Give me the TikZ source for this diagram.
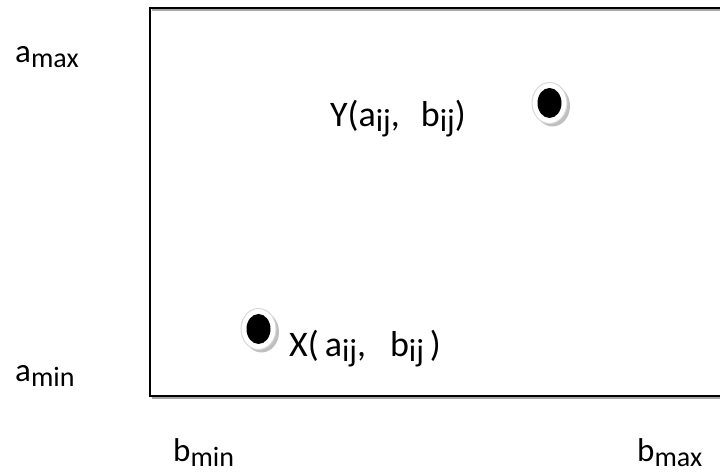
\documentclass[tikz,border=0pt]{standalone}
\usepackage{fontspec}
\setmainfont{Carlito}
\usetikzlibrary{shapes.geometric}
\newcommand{\mysub}[1]{\raisebox{-5pt}{\fontsize{28}{30}\selectfont #1}}
\newcommand{\ptsub}[1]{\raisebox{-5pt}{\fontsize{32}{34}\selectfont #1}}
\begin{document}
\begin{tikzpicture}[x=1pt,y=1pt,
  lbl/.style={anchor=base west,inner sep=0pt,font=\fontsize{33}{38}\selectfont},
  plbl/.style={anchor=base west,inner sep=0pt,font=\fontsize{36}{40}\selectfont},
  dotshadow/.style={fill=black!25,draw=none},
  dotring/.style={fill=white,draw=black!15,line width=1pt},
  dotcore/.style={fill=black,draw=none}]
\useasboundingbox (0,0) rectangle (720,473);
\clip (0,0) rectangle (720,473);
\fill[white] (0,0) rectangle (720,473);
% frame
\draw[black!35,line width=1.5pt] (152,75) -- (730,75);
\draw[black!35,line width=1.5pt] (152,463) -- (730,463);
\draw[line width=1.8pt] (150,77) rectangle (740,465);
% axis labels
\node[lbl] (amax) at (15,410) {a\mysub{max}};
\node[lbl] (amin) at (15,91) {a\mysub{min}};
\node[lbl] (bmin) at (173,11) {b\mysub{min}};
\node[lbl] (bmax) at (637,11) {b\mysub{max}};
% point labels
\node[plbl] (ylab) at (330,346) {Y(a\ptsub{ij},\hspace{21pt}b\ptsub{ij})};
\node[plbl] (xlab) at (289,116) {X(\hspace{6pt}a\ptsub{ij},\hspace{24pt}b\ptsub{ij}\hspace{6pt})};
% dots
\foreach \n/\cx/\cy in {ydot/549.5/370, xdot/258.5/144}{
  \fill[dotshadow] (\cx+3,\cy-3) ellipse (17.5 and 20.5);
  \filldraw[dotring] (\cx,\cy) ellipse (17.5 and 20.5);
  \node[dotcore,ellipse,minimum width=24pt,minimum height=30pt,inner sep=0pt] (\n) at (\cx,\cy) {};
}
\end{tikzpicture}
\end{document}
